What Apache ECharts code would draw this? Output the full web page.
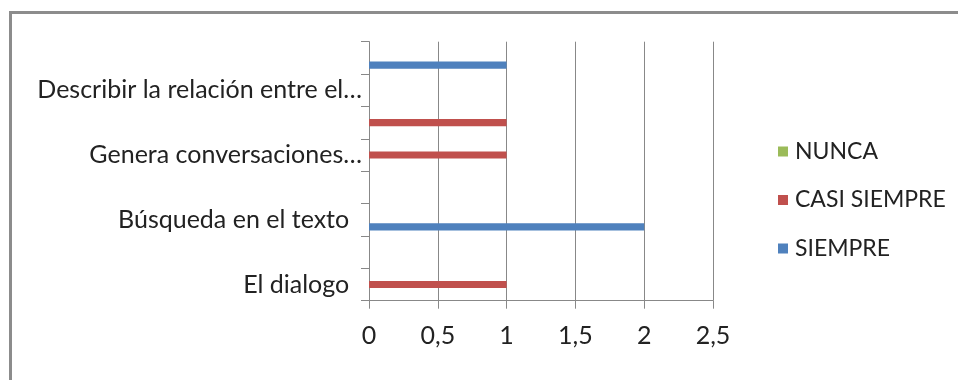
<!DOCTYPE html>
<html>
<head>
<meta charset="utf-8">
<script src="https://cdn.jsdelivr.net/npm/echarts@6/dist/echarts.min.js"></script>
<style>html,body{margin:0;padding:0;background:#fff;}#c{width:958px;height:380px;}</style>
</head>
<body>
<div id="c"></div>
<script>
// Categories bottom to top (only every other label is shown, as in the original)
const categories = ['El dialogo  ', '', 'Búsqueda en el texto  ', '', 'Genera conversaciones…', '', 'Describir la relación entre el…', ''];
const siempre = [0, 0, 2, 0, 0, 0, 0, 1];
const casiSiempre = [1, 0, 0, 0, 1, 1, 0, 0];
const nunca = [0, 0, 0, 0, 0, 0, 0, 0];
const xTicks = [0, 0.5, 1, 1.5, 2, 2.5];

const FONT = 'Lato';
const chart = echarts.init(document.getElementById('c'), null, {renderer: 'canvas'});
chart.setOption({
  animation: false,
  textStyle: {fontFamily: FONT},
  grid: {left: 369, right: 245, top: 41.7, bottom: 79.3, containLabel: false},
  xAxis: {
    type: 'value',
    min: xTicks[0], max: xTicks[xTicks.length - 1], interval: 0.5,
    axisLine: {show: true, lineStyle: {color: '#888888', width: 1}},
    axisTick: {show: true, length: 8, lineStyle: {color: '#888888'}},
    splitLine: {show: true, lineStyle: {color: '#888888', width: 1}},
    axisLabel: {
      fontFamily: FONT, fontSize: 25, color: '#222', margin: 23,
      formatter: v => String(v).replace('.', ',')
    }
  },
  yAxis: {
    type: 'category',
    data: categories,
    axisLine: {show: true, lineStyle: {color: '#888888', width: 1}},
    axisTick: {show: true, length: 8, interval: 0, lineStyle: {color: '#888888'}},
    splitLine: {show: false},
    axisLabel: {interval: 1, fontFamily: FONT, fontSize: 25, color: '#222', margin: 7}
  },
  legend: {
    orient: 'vertical',
    left: 773, top: 135,
    data: ['NUNCA', 'CASI SIEMPRE', 'SIEMPRE'],
    icon: 'rect', itemWidth: 10, itemHeight: 10, itemGap: 25.5,
    textStyle: {fontFamily: FONT, fontSize: 23, color: '#222', padding: [0, 0, 0, 2]}
  },
  series: [
    {name: 'NUNCA', type: 'bar', data: nunca, barWidth: 7.2, barGap: '0%', itemStyle: {color: '#9BBB59'}},
    {name: 'CASI SIEMPRE', type: 'bar', data: casiSiempre, barWidth: 7.2, barGap: '0%', itemStyle: {color: '#C0504D'}},
    {name: 'SIEMPRE', type: 'bar', data: siempre, barWidth: 7.2, barGap: '0%', itemStyle: {color: '#4F81BD'}}
  ],
  graphic: [{
    type: 'rect', silent: true,
    shape: {x: 10.5, y: 12.5, width: 1200, height: 600},
    style: {fill: 'none', stroke: '#8c8c8c', lineWidth: 3}
  }]
});
</script>
</body>
</html>
